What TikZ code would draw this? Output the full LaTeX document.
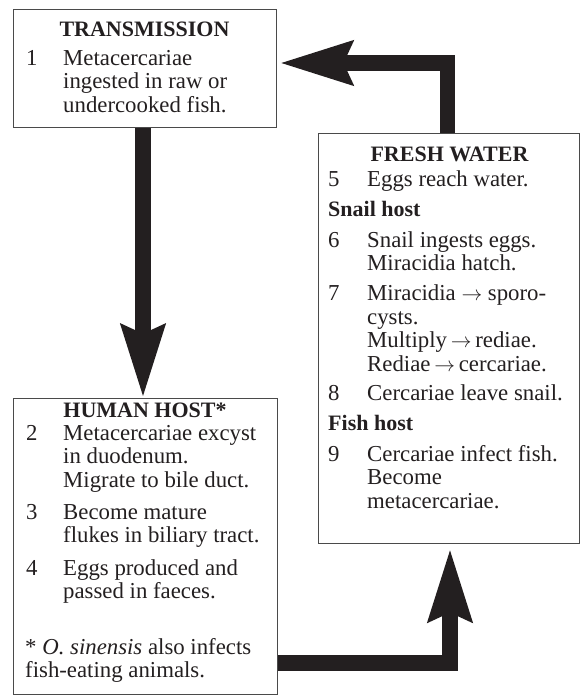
\documentclass[tikz,border=0pt]{standalone}
\usepackage{fontspec}
\setmainfont{Liberation Serif}
\usetikzlibrary{arrows.meta,calc}
\definecolor{ink}{HTML}{231F20}
\definecolor{frame}{HTML}{4A4A4A}
\begin{document}
\begin{tikzpicture}[x=1pt,y=-1pt,
  box/.style={draw=frame,line width=1.3pt,rectangle,inner sep=0pt,anchor=north west},
  txt/.style={anchor=base west,inner sep=0pt,text=ink,font=\fontsize{22.8}{23.5}\selectfont},
  hd/.style={anchor=base,inner sep=0pt,text=ink,font=\fontsize{22}{23.5}\selectfont\bfseries},
  subhd/.style={anchor=base west,inner sep=0pt,text=ink,font=\fontsize{22}{23.5}\selectfont\bfseries},
  bigarrow/.style={draw=ink,line width=15.5pt,line cap=butt,line join=miter,
    -{Stealth[length=72pt 0 0,width=42pt 0 0,inset=8pt 0 0]}}]
\useasboundingbox (0,0) rectangle (583,696);

% boxes
\node[box,minimum width=263pt,minimum height=118pt] (trans) at (13,9) {};
\node[box,minimum width=261pt,minimum height=410pt] (fresh) at (318,133) {};
\node[box,minimum width=264pt,minimum height=296pt] (human) at (13,398) {};

% connectors
\coordinate (dx) at (143,0);
\coordinate (ux) at (447.5,63);
\coordinate (bx) at (450,663);
\draw[bigarrow] (trans.south -| dx) -- (human.north -| dx);
\draw[bigarrow] (fresh.north -| ux) |- ([xshift=2pt]trans.east |- ux);
\draw[bigarrow] (human.east |- bx) -| ([yshift=-4pt]fresh.south -| bx);

% transmission
\node[hd] (th) at (144.5,36) {TRANSMISSION};
\node[txt] (t1n) at (26,65) {1};
\node[txt] (t1a) at (63,65) {Metacercariae};
\node[txt] (t1b) at (63,88.5) {ingested in raw or};
\node[txt] (t1c) at (63,112) {undercooked fish.};

% human host
\node[hd] (hh) at (145,417) {HUMAN HOST*};
\node[txt] (h2n) at (26,440) {2};
\node[txt] (h2a) at (63,440) {Metacercariae excyst};
\node[txt] (h2b) at (63,463.5) {in duodenum.};
\node[txt] (h2c) at (63,487) {Migrate to bile duct.};
\node[txt] (h3n) at (26,519) {3};
\node[txt] (h3a) at (63,519) {Become mature};
\node[txt] (h3b) at (63,542.5) {flukes in biliary tract.};
\node[txt] (h4n) at (26,575) {4};
\node[txt] (h4a) at (63,575) {Eggs produced and};
\node[txt] (h4b) at (63,598.5) {passed in faeces.};
\node[txt] (hfa) at (25,654) {* \textit{O. sinensis} also infects};
\node[txt] (hfb) at (25,677.5) {fish-eating animals.};

% fresh water
\node[hd] (fh) at (449.5,161) {FRESH WATER};
\node[txt] (f5n) at (328,186) {5};
\node[txt] (f5a) at (367,186) {Eggs reach water.};
\node[subhd] (fsn) at (328,216.5) {Snail host};
\node[txt] (f6n) at (328,247) {6};
\node[txt] (f6a) at (367,247) {Snail ingests eggs.};
\node[txt] (f6b) at (367,270.5) {Miracidia hatch.};
\node[txt] (f7n) at (328,300.5) {7};
\node[txt] (f7a) at (367,300.5) {Miracidia $\rightarrow$ sporo-};
\node[txt] (f7b) at (367,324) {cysts.};
\node[txt] (f7c) at (367,347.5) {Multiply\,$\rightarrow$\,rediae.};
\node[txt] (f7d) at (367,371) {Rediae\,$\rightarrow$\,cercariae.};
\node[txt] (f8n) at (328,400.5) {8};
\node[txt] (f8a) at (367,400.5) {Cercariae leave snail.};
\node[subhd] (ffh) at (328,430.5) {Fish host};
\node[txt] (f9n) at (328,461) {9};
\node[txt] (f9a) at (367,461) {Cercariae infect fish.};
\node[txt] (f9b) at (367,484.5) {Become};
\node[txt] (f9c) at (367,508) {metacercariae.};
\end{tikzpicture}
\end{document}
